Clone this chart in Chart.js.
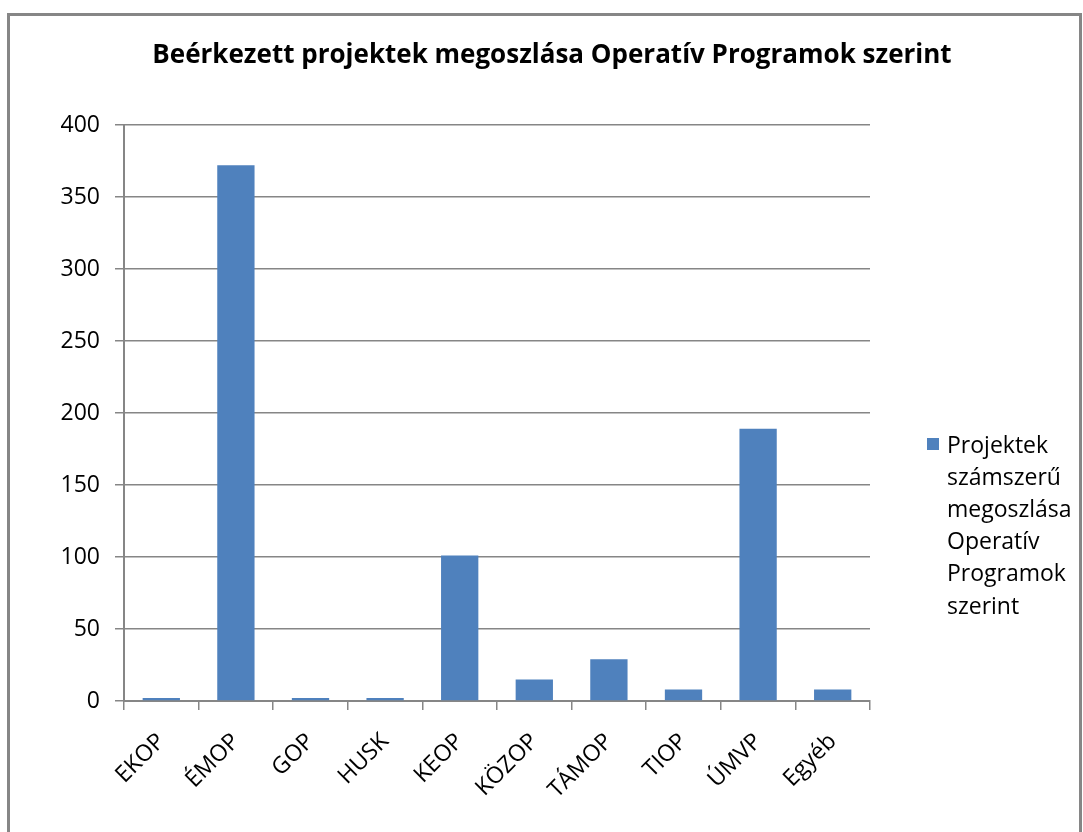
<!DOCTYPE html>
<html>
<head>
<meta charset="utf-8">
<script src="https://cdn.jsdelivr.net/npm/chart.js@4.4.0/dist/chart.umd.min.js"></script>
<style>
  html, body { margin: 0; padding: 0; background: #fff; }
  #wrap { width: 1083px; height: 832px; }
</style>
</head>
<body>
<div id="wrap"><canvas id="chart" width="1083" height="832"></canvas></div>
<script>
// chart data
const categories = ['EKOP', 'ÉMOP', 'GOP', 'HUSK', 'KEOP', 'KÖZOP', 'TÁMOP', 'TIOP', 'ÚMVP', 'Egyéb'];
const projectCounts = [2, 372, 2, 2, 101, 15, 29, 8, 189, 8];
const seriesName = 'Projektek számszerű megoszlása Operatív Programok szerint';
const legendLines = ['Projektek', 'számszerű', 'megoszlása', 'Operatív', 'Programok', 'szerint'];
const chartTitle = 'Beérkezett projektek megoszlása Operatív Programok szerint';

const fontFamily = '"Open Sans", "Noto Sans", sans-serif';
const gray = '#868686';
const barColor = '#4F81BD';

// frame, title and the wrapped legend on the right
const decorations = {
  id: 'decorations',
  beforeDraw(chart) {
    const ctx = chart.ctx;
    ctx.save();
    ctx.fillStyle = '#fff';
    ctx.fillRect(0, 0, chart.width, chart.height);
    ctx.strokeStyle = gray;
    ctx.lineWidth = 3;
    ctx.strokeRect(8.5, 14.5, 1072, 900);
    ctx.restore();
  },
  afterDraw(chart) {
    const ctx = chart.ctx;
    ctx.save();
    ctx.fillStyle = '#000';
    ctx.font = 'bold 26px ' + fontFamily;
    ctx.textAlign = 'center';
    ctx.textBaseline = 'middle';
    ctx.fillText(chartTitle, 552, 56);

    ctx.fillStyle = barColor;
    ctx.fillRect(927, 438, 12, 12);
    ctx.fillStyle = '#000';
    ctx.font = '23px ' + fontFamily;
    ctx.textAlign = 'left';
    for (let i = 0; i < legendLines.length; i++) {
      ctx.fillText(legendLines[i], 947, 446 + i * 32.2);
    }
    ctx.restore();
  }
};

new Chart(document.getElementById('chart'), {
  type: 'bar',
  data: {
    labels: categories,
    datasets: [{
      label: seriesName,
      data: projectCounts,
      backgroundColor: barColor,
      barPercentage: 0.5,
      categoryPercentage: 1.0
    }]
  },
  options: {
    responsive: false,
    animation: false,
    layout: { padding: { top: 125, right: 213, bottom: 0, left: 0 } },
    plugins: {
      legend: { display: false },
      title: { display: false },
      tooltip: { enabled: false }
    },
    scales: {
      x: {
        grid: { display: true, drawOnChartArea: false, drawTicks: true, tickLength: 9, color: gray, lineWidth: 1.5 },
        border: { display: true, color: gray, width: 2 },
        ticks: {
          color: '#000',
          font: { family: fontFamily, size: 23 },
          maxRotation: 45,
          minRotation: 45,
          padding: 18
        },
        afterFit(scale) { scale.height = 131; }
      },
      y: {
        min: 0,
        max: 400,
        grid: { color: gray, lineWidth: 1.5, tickLength: 9 },
        border: { display: true, color: gray, width: 2 },
        ticks: {
          stepSize: 50,
          color: '#000',
          font: { family: fontFamily, size: 23 },
          padding: 15
        },
        afterFit(scale) { scale.width = 124; }
      }
    }
  },
  plugins: [decorations]
});
</script>
</body>
</html>
